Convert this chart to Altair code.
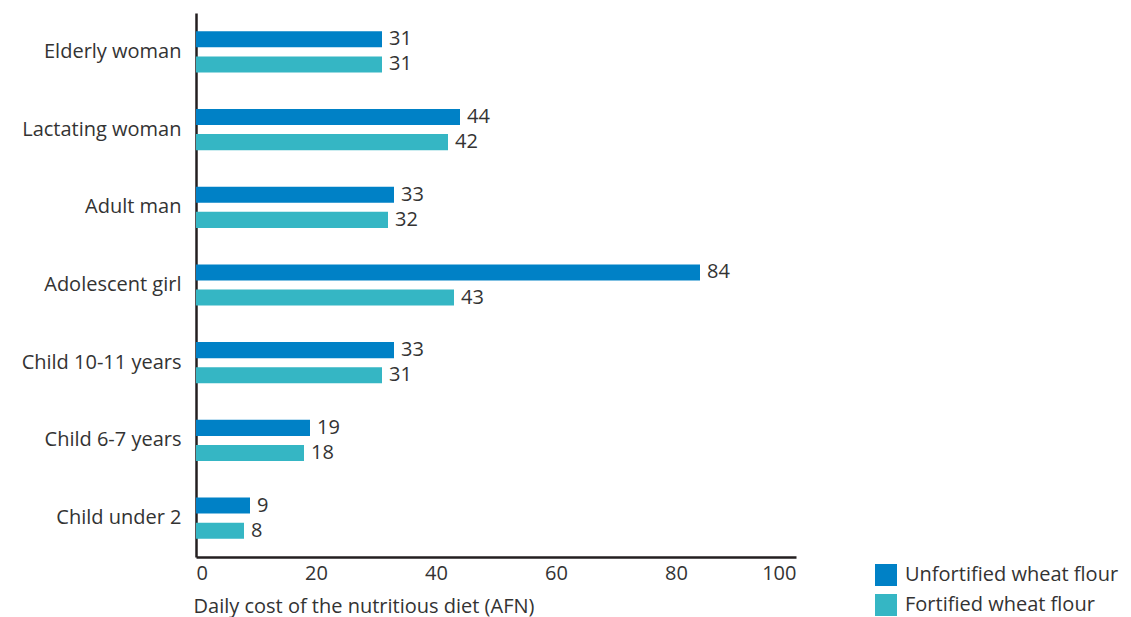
import altair as alt
import pandas as pd

# Daily cost of the nutritious diet by household member (AFN)
categories = [
    "Elderly woman",
    "Lactating woman",
    "Adult man",
    "Adolescent girl",
    "Child 10-11 years",
    "Child 6-7 years",
    "Child under 2",
]
unfortified = [31, 44, 33, 84, 33, 19, 9]
fortified = [31, 42, 32, 43, 31, 18, 8]
series = ["Unfortified wheat flour", "Fortified wheat flour"]
colors = ["#0081c6", "#35b6c4"]
x_ticks = [0, 20, 40, 60, 80, 100]

rows = []
for cat, u, f in zip(categories, unfortified, fortified):
    rows.append({"group": cat, "flour": series[0], "cost": u})
    rows.append({"group": cat, "flour": series[1], "cost": f})
df = pd.DataFrame(rows)

FONT = "Open Sans"
FS = 20
TEXT = "#333333"

y_enc = alt.Y(
    "group:N",
    sort=categories,
    scale=alt.Scale(paddingInner=0.47, paddingOuter=0.235),
    axis=alt.Axis(
        title=None,
        ticks=False,
        labelFontSize=FS,
        labelFont=FONT,
        labelColor=TEXT,
        labelPadding=15,
        labelLimit=300,
        domainColor="#231f20",
        domainWidth=2.5,
    ),
)
yoff_enc = alt.YOffset(
    "flour:N", sort=series, scale=alt.Scale(paddingInner=0.36, paddingOuter=0)
)
x_enc = alt.X(
    "cost:Q",
    scale=alt.Scale(domain=[0, 100], nice=False),
    axis=alt.Axis(
        values=x_ticks,
        title="Daily cost of the nutritious diet (AFN)",
        titleFont=FONT,
        titleFontSize=FS,
        titleFontWeight="normal",
        titleColor=TEXT,
        titleAnchor="start",
        titleAlign="left",
        titleX=-3,
        titleY=55,
        titleBaseline="alphabetic",
        titleLimit=600,
        ticks=False,
        grid=False,
        labelFont=FONT,
        labelFontSize=FS,
        labelColor=TEXT,
        labelPadding=6,
        labelFlush=True,
        domainColor="#231f20",
        domainWidth=2.5,
    ),
)
color_enc = alt.Color(
    "flour:N",
    sort=series,
    scale=alt.Scale(domain=series, range=colors),
    legend=alt.Legend(
        title=None,
        orient="none",
        legendX=679,
        legendY=551,
        symbolType="square",
        symbolSize=484,
        symbolStrokeWidth=0,
        labelFont=FONT,
        labelFontSize=FS,
        labelColor=TEXT,
        labelOffset=8,
        labelLimit=400,
        rowPadding=8,
    ),
)

bars = alt.Chart(df).mark_bar(cornerRadius=0).encode(
    y=y_enc, yOffset=yoff_enc, x=x_enc, color=color_enc
)
labels = alt.Chart(df).mark_text(
    align="left", baseline="middle", dx=7, fontSize=FS, font=FONT, color=TEXT
).encode(y=y_enc, yOffset=yoff_enc, x=x_enc, text=alt.Text("cost:Q"))

chart = (
    alt.layer(bars, labels)
    .properties(
        width=600,
        height=544,
        background="white",
        autosize=alt.AutoSizeParams(type="none"),
        padding={"left": 196, "top": 13, "right": 335, "bottom": 60},
    )
    .configure_view(stroke=None, strokeWidth=0)
)

chart.save("out.html", embed_options={"renderer": "svg", "actions": False})
